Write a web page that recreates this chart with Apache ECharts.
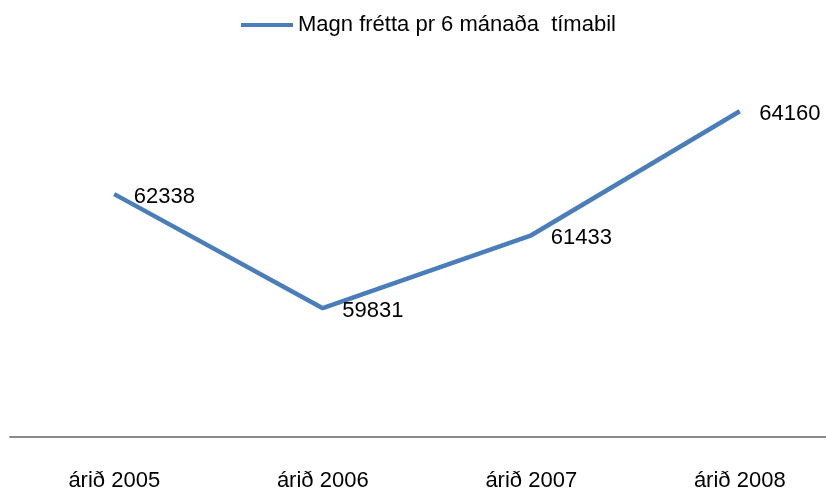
<!DOCTYPE html>
<html>
<head>
<meta charset="utf-8">
<script src="https://cdn.jsdelivr.net/npm/echarts@6/dist/echarts.min.js"></script>
<style>html,body{margin:0;padding:0;background:#fff}#c{width:826px;height:488px}</style>
</head>
<body>
<div id="c"></div>
<script>
const categories = ['árið 2005', 'árið 2006', 'árið 2007', 'árið 2008'];
const seriesName = 'Magn frétta pr 6 mánaða  tímabil';
const values = [62338, 59831, 61433, 64160];

const FONT = 'Liberation Sans, Arial, sans-serif';
const chart = echarts.init(document.getElementById('c'));
chart.setOption({
  animation: false,
  backgroundColor: '#ffffff',
  legend: {
    left: 236, top: 9,
    itemWidth: 52, itemHeight: 4, itemGap: 5,
    data: [{ name: seriesName, icon: 'rect' }],
    textStyle: { fontFamily: FONT, fontSize: 22, color: '#000' }
  },
  grid: { left: 10, width: 834, top: 73, height: 364, containLabel: false, outerBoundsMode: 'none' },
  xAxis: {
    type: 'category',
    data: categories,
    boundaryGap: true,
    axisLine: { show: true, lineStyle: { color: '#8a8a8a', width: 2 } },
    axisTick: { show: false },
    axisLabel: { fontFamily: FONT, fontSize: 22, color: '#000', margin: 33 }
  },
  yAxis: {
    type: 'value', min: 57000, max: 65000, interval: 1000,
    show: false, splitLine: { show: false }
  },
  series: [{
    name: seriesName,
    type: 'line',
    data: values,
    color: '#4A7EBB',
    symbol: 'circle', symbolSize: 1,
    lineStyle: { width: 4.5, color: '#4A7EBB' },
    itemStyle: { color: '#4A7EBB' },
    label: {
      show: true, position: 'right', distance: 19, offset: [0, 3],
      fontFamily: FONT, fontSize: 22, color: '#000'
    }
  }]
});
</script>
</body>
</html>
